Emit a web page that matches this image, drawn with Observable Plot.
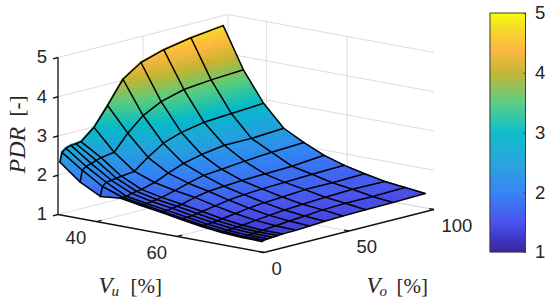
<!DOCTYPE html>
<html><head><meta charset="utf-8">
<style>html,body{margin:0;padding:0;background:#fff}svg{display:block}</style>
<script src="https://cdn.jsdelivr.net/npm/d3@7"></script>
<script src="https://cdn.jsdelivr.net/npm/@observablehq/plot@0.6"></script>
</head><body><script>
const vu=[31,36,41,46,51,56,61,66,71,76,81];
const vo=[0,1.2,3.5,6.5,9.4,12.3,20,28,37,47.6,61,77,96];
const pdr=[
[2.34,2.58,2.66,2.70,2.71,2.73,3.01,3.48,4.05,4.36,4.54,4.67,4.77],
[1.93,2.22,2.29,2.33,2.38,2.42,2.47,2.87,3.22,3.46,3.62,3.69,3.74],
[1.66,1.90,1.98,2.00,2.02,2.04,2.08,2.35,2.61,2.77,2.88,2.93,2.98],
[1.71,1.72,1.72,1.76,1.78,1.80,1.89,2.04,2.19,2.30,2.39,2.39,2.44],
[1.62,1.63,1.63,1.65,1.67,1.69,1.78,1.88,1.98,2.02,2.08,2.13,2.17],
[1.54,1.55,1.55,1.57,1.59,1.61,1.70,1.77,1.80,1.83,1.85,1.87,1.94],
[1.45,1.46,1.47,1.48,1.50,1.52,1.58,1.64,1.68,1.71,1.73,1.76,1.78],
[1.37,1.38,1.39,1.40,1.41,1.43,1.48,1.53,1.57,1.60,1.64,1.64,1.66],
[1.31,1.32,1.33,1.34,1.35,1.36,1.40,1.44,1.48,1.51,1.54,1.57,1.56],
[1.28,1.29,1.30,1.31,1.32,1.33,1.36,1.39,1.42,1.46,1.48,1.48,1.50],
[1.27,1.29,1.30,1.31,1.32,1.33,1.34,1.36,1.38,1.40,1.41,1.42,1.44]];
const vuTicks=[40,60], voTicks=[0,50,100], zTicks=[1,2,3,4,5], barTicks=[1,2,3,4,5];
const colorStops=[1,1.25,1.5,2,2.5,3,3.5,4,4.4,4.7,5];
const colorValues=["#38299c","#3f38c8","#4650ee","#2f7ff5","#1ea0dc","#00b9c7","#52cc7e","#c2b32e","#ffb63c","#f6d52a","#f9fb0e"];

const vuDom=[30.5,81.5], voDom=[0,100], zDom=[1,5];
const org=[57.5,214], ex=[206,38], ey=[170,-43], ez=[0,-157];
function P(u,o,z){const a=(u-vuDom[0])/(vuDom[1]-vuDom[0]),b=(o-voDom[0])/(voDom[1]-voDom[0]),c=(z-zDom[0])/(zDom[1]-zDom[0]);
  return [org[0]+a*ex[0]+b*ey[0]+c*ez[0],org[1]+a*ex[1]+b*ey[1]+c*ez[1]];}
const seg=(name,A,B)=>({name,x1:A[0],y1:A[1],x2:B[0],y2:B[1]});

// walls and floor grid
const grid=[];
for(const z of zTicks){grid.push(seg("g",P(vuDom[0],0,z),P(vuDom[0],100,z)));grid.push(seg("g",P(vuDom[0],100,z),P(vuDom[1],100,z)));}
for(const o of voTicks.slice(1)){grid.push(seg("g",P(vuDom[0],o,1),P(vuDom[0],o,5)));grid.push(seg("g",P(vuDom[0],o,1),P(vuDom[1],o,1)));}
for(const u of vuTicks){grid.push(seg("g",P(u,0,1),P(u,100,1)));grid.push(seg("g",P(u,100,1),P(u,100,5)));}

// axes
const axes=[seg("a",P(vuDom[0],0,1),P(vuDom[0],0,5)),seg("a",P(vuDom[0],0,1),P(vuDom[1],0,1)),seg("a",P(vuDom[1],0,1),P(vuDom[1],100,1))];
for(const z of zTicks)axes.push(seg("t",P(vuDom[0],0,z),P(vuDom[0],-3,z)));
for(const u of vuTicks)axes.push(seg("t",P(u,0,1),P(u,3,1)));
for(const o of voTicks)axes.push(seg("t",P(vuDom[1],o,1),P(vuDom[1]-1.2,o,1)));

// surface: each mesh cell drawn as small shaded patches, far to near
const patches=[];let id=0;const N=8;
function pt(i,j,s,t){
  const u=vu[i]+(vu[i+1]-vu[i])*s,o=vo[j]+(vo[j+1]-vo[j])*t;
  const z=(1-s)*(1-t)*pdr[i][j]+s*(1-t)*pdr[i+1][j]+(1-s)*t*pdr[i][j+1]+s*t*pdr[i+1][j+1];
  return {p:P(u,o,z),z};}
for(let i=0;i<vu.length-1;i++)for(let j=vo.length-2;j>=0;j--)for(let a=0;a<N;a++)for(let b=N-1;b>=0;b--){
  const s0=a/N,s1=(a+1)/N,t0=b/N,t1=(b+1)/N;
  const A=pt(i,j,s0,t0),B=pt(i,j,s0,t1),C=pt(i,j,s1,t0),D=pt(i,j,s1,t1),v=(A.z+B.z+C.z+D.z)/4;
  patches.push({id,v,x1:A.p[0],y1:A.p[1],x2:B.p[0],y2:B.p[1]},{id,v,x1:C.p[0],y1:C.p[1],x2:D.p[0],y2:D.p[1]});id++;
}
// mesh lines
const mesh=[];
vu.forEach((u,i)=>vo.forEach((o,j)=>{const p=P(u,o,pdr[i][j]);mesh.push({k:"i"+i,x:p[0],y:p[1]});}));
vo.forEach((o,j)=>vu.forEach((u,i)=>{const p=P(u,o,pdr[i][j]);mesh.push({k:"j"+j,x:p[0],y:p[1]});}));

// colour bar
const bar={x1:490,x2:525.5,top:13,bottom:252};
const barY=v=>bar.bottom-(v-1)/4*(bar.bottom-bar.top);
const levels=d3.range(1,5,1/60);

const tickFont={fontFamily:"Liberation Sans, Arial, sans-serif",fontSize:18.5,fill:"#262626"};
const serif={fontFamily:"Liberation Serif, serif",fill:"#262626"};
const lab=(txt,x,y,o)=>Plot.text([txt],{x:()=>x,y:()=>y,text:d=>d,textAnchor:"start",...serif,...o});

const chart=Plot.plot({width:550,height:304,margin:0,
  x:{domain:[0,550],range:[0,550],axis:null},y:{domain:[0,304],range:[0,304],axis:null},
  color:{type:"linear",domain:colorStops,range:colorValues},
  marks:[
    Plot.link(grid,{x1:"x1",y1:"y1",x2:"x2",y2:"y2",stroke:"#dcdcdc",strokeWidth:1}),
    Plot.link(axes,{x1:"x1",y1:"y1",x2:"x2",y2:"y2",stroke:"#111",strokeWidth:1.3}),
    Plot.area(patches,{x1:"x1",y1:"y1",x2:"x2",y2:"y2",z:"id",fill:"v",stroke:"v",strokeWidth:0.6}),
    Plot.line(mesh,{x:"x",y:"y",z:"k",stroke:"#000",strokeWidth:1.5,strokeLinejoin:"round"}),
    Plot.text(zTicks,{x:d=>P(vuDom[0],0,d)[0],y:d=>P(vuDom[0],0,d)[1],text:d=>String(d),textAnchor:"end",dx:-11,dy:0,...tickFont}),
    Plot.text(vuTicks,{x:d=>P(d,0,1)[0],y:d=>P(d,0,1)[1],text:d=>String(d),dx:-20.5,dy:16.5,...tickFont}),
    Plot.text(voTicks,{x:d=>P(vuDom[1],d,1)[0],y:d=>P(vuDom[1],d,1)[1],text:d=>String(d),textAnchor:"start",dx:7.5,dy:16.5,...tickFont}),
    lab("PDR",17,173,{rotate:-90,fontSize:24,fontStyle:"italic",letterSpacing:1.6}),
    lab("[-]",17,116,{rotate:-90,fontSize:21}),
    lab("V",98,285.5,{fontSize:23,fontStyle:"italic"}),
    lab("u",111,291,{fontSize:15,fontStyle:"italic"}),
    lab("[%]",130,286,{fontSize:21,letterSpacing:-1.6}),
    lab("V",366,285.5,{fontSize:23,fontStyle:"italic"}),
    lab("o",379,291,{fontSize:15,fontStyle:"italic"}),
    lab("[%]",396,286,{fontSize:21,letterSpacing:-1.6}),
    Plot.rect(levels,{x1:()=>bar.x1,x2:()=>bar.x2,y1:d=>barY(d),y2:d=>barY(d+1/60),fill:d=>d+1/120,stroke:d=>d+1/120,strokeWidth:0.5}),
    Plot.rect([0],{x1:()=>bar.x1,x2:()=>bar.x2,y1:()=>bar.top,y2:()=>bar.bottom,fill:"none",stroke:"#404040",strokeWidth:1}),
    Plot.link(barTicks,{x1:()=>bar.x2-2.5,x2:()=>bar.x2,y1:d=>barY(d),y2:d=>barY(d),stroke:"#404040",strokeWidth:1}),
    Plot.text(barTicks,{x:()=>bar.x2+9,y:d=>barY(d),text:d=>String(d),textAnchor:"start",...tickFont})
  ]});
document.body.appendChild(chart);
</script></body></html>
